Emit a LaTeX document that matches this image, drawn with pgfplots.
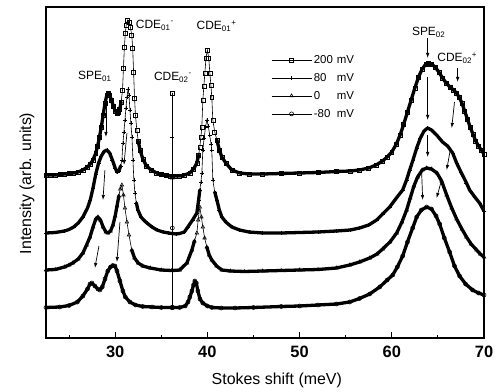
\documentclass[border=0pt]{standalone}
\usepackage{pgfplots}
\usepackage{pgfplotstable}
\pgfplotsset{compat=1.18}
\usepackage{fontspec}
\setmainfont{Liberation Sans}
\usetikzlibrary{arrows.meta,calc}
\newcommand{\lbl}{\fontsize{12}{12}\selectfont}

\pgfplotstableread[row sep=\\]{x y\\
22.5 -175\\ 23.0 -175\\ 23.5 -175\\ 24.0 -174.5\\ 24.5 -174\\ 25.0 -173.5\\ 25.5 -173\\ 26.0 -172\\ 26.5 -170\\ 27.0 -167\\
27.3 -164\\ 27.6 -160\\ 27.9 -153\\ 28.1 -146\\ 28.3 -137\\ 28.5 -127\\ 28.7 -115\\ 28.9 -103\\ 29.1 -95\\ 29.25 -93\\
29.4 -95\\ 29.6 -100\\ 29.8 -106\\ 30.0 -111\\ 30.2 -113\\ 30.35 -112\\ 30.5 -109\\ 30.65 -102\\ 30.8 -90\\ 30.9 -68\\
31.0 -47\\ 31.1 -33\\ 31.2 -25\\ 31.35 -20\\ 31.5 -22\\ 31.65 -27\\ 31.8 -35\\ 31.9 -48\\ 32.0 -72\\ 32.1 -98\\
32.2 -115\\ 32.35 -130\\ 32.5 -141\\ 32.7 -150\\ 33.0 -159\\ 33.4 -166\\ 33.9 -170\\ 34.5 -173\\ 35.0 -174.5\\ 35.5 -175.5\\
36.0 -176\\ 36.15 -176\\ 36.2 -176\\ 36.2 -93\\ 36.2 -176\\ 36.25 -176\\ 36.5 -176\\ 37.0 -176\\ 37.5 -175\\ 38.1 -173\\ 38.5 -169\\ 38.86 -163\\
39.05 -155\\ 39.18 -147\\ 39.3 -137\\ 39.4 -127\\ 39.51 -100\\ 39.62 -86\\ 39.73 -73\\ 39.85 -58\\ 40.0 -50\\ 40.15 -58\\
40.27 -73\\ 40.38 -85\\ 40.48 -97\\ 40.59 -120\\ 40.8 -132\\ 41.03 -140\\ 41.3 -150\\ 41.57 -157\\ 42.0 -163\\ 42.65 -170\\
43.5 -173\\ 44.5 -174\\ 46 -174\\ 48 -173.5\\ 50 -173\\ 52 -172.5\\ 54 -171.5\\ 55.5 -171\\ 56.5 -170\\ 57.5 -168\\
58.3 -165\\ 59.0 -161\\ 59.5 -157\\ 60.0 -152\\ 60.5 -144\\ 60.9 -135\\ 61.3 -124\\ 61.7 -112\\ 62.1 -100\\ 62.5 -88\\
62.9 -77\\ 63.3 -69\\ 63.7 -64\\ 64.0 -63\\ 64.3 -64\\ 64.7 -67\\ 65.1 -72\\ 65.5 -78\\ 65.9 -83\\ 66.3 -87\\
66.7 -90\\ 67.0 -93\\ 67.3 -97\\ 67.6 -103\\ 67.9 -111\\ 68.2 -119\\ 68.5 -127\\ 68.8 -134\\ 69.1 -141\\ 69.4 -146\\
69.7 -150\\ 70.0 -154\\
}\curveA

\pgfplotstableread[row sep=\\]{x y\\
22.5 -233\\ 23.5 -232.5\\ 24.5 -231\\ 25.0 -229.5\\ 25.5 -227\\ 26.0 -223\\ 26.5 -217\\ 27.0 -208\\ 27.3 -200\\ 27.6 -188\\
27.9 -174\\ 28.2 -163\\ 28.5 -156\\ 28.8 -151.5\\ 29.1 -150\\ 29.4 -153\\ 29.7 -160\\ 30.0 -168\\ 30.2 -172\\ 30.4 -171\\
30.6 -166\\ 30.73 -160\\ 30.84 -143\\ 30.95 -132\\ 31.06 -120\\ 31.17 -108\\ 31.28 -97\\ 31.4 -89\\ 31.5 -95\\ 31.6 -110\\
31.7 -123\\ 31.82 -137\\ 31.93 -160\\ 32.03 -180\\ 32.14 -193\\ 32.3 -203\\ 32.47 -210\\ 32.8 -217\\ 33.1 -220\\ 33.44 -223\\
34.0 -227\\ 34.53 -230\\ 35.2 -232\\ 35.8 -233\\ 36.15 -233.5\\ 36.2 -233.5\\ 36.2 -137\\ 36.2 -233.5\\ 36.25 -233.5\\ 36.6 -234\\ 37.0 -233.5\\ 37.5 -232\\
37.88 -227\\ 38.4 -220\\ 38.86 -213\\ 39.05 -200\\ 39.18 -190\\ 39.3 -182\\ 39.4 -173\\ 39.51 -150\\ 39.65 -138\\ 39.8 -127\\
39.94 -120\\ 40.1 -126\\ 40.25 -135\\ 40.4 -144\\ 40.48 -150\\ 40.59 -180\\ 40.8 -192\\ 41.03 -200\\ 41.3 -210\\ 41.57 -217\\
42.0 -222\\ 42.65 -227\\ 43.5 -230\\ 44.5 -232\\ 46 -233\\ 48 -233\\ 50 -232.5\\ 52 -232\\ 54 -231\\ 55.5 -230\\
56.5 -228\\ 57.5 -225\\ 58.36 -220\\ 59.0 -214\\ 59.77 -207\\ 60.5 -198\\ 61.18 -190\\ 61.6 -180\\ 61.94 -170\\ 62.3 -160\\
62.7 -148\\ 63.1 -138\\ 63.5 -131\\ 63.89 -128\\ 64.3 -130\\ 64.86 -135\\ 65.5 -142\\ 66.05 -146\\ 66.6 -153\\ 67.03 -163\\
67.5 -172\\ 68.1 -183\\ 68.44 -190\\ 69.0 -197\\ 69.52 -203\\ 70.0 -211\\
}\curveB

\pgfplotstableread[row sep=\\]{x y\\
22.5 -270\\ 23.5 -269.5\\ 24.5 -267\\ 25.0 -265\\ 25.4 -263\\ 26.0 -259\\ 26.5 -253\\ 26.9 -245\\ 27.27 -237\\ 27.6 -227\\
27.9 -219\\ 28.13 -217\\ 28.4 -220\\ 28.7 -227\\ 29.0 -232\\ 29.22 -233\\ 29.5 -231\\ 29.76 -225\\ 30.0 -216\\ 30.2 -206\\
30.4 -196\\ 30.55 -189\\ 30.73 -185\\ 30.9 -195\\ 31.06 -208\\ 31.28 -222\\ 31.5 -235\\ 31.8 -250\\ 32.1 -258\\ 32.5 -263\\
33.0 -266\\ 33.8 -268\\ 35.0 -270\\ 36.15 -270.5\\ 36.2 -270.5\\ 36.2 -178\\ 36.2 -270.5\\ 36.25 -270.5\\ 37.0 -270\\ 37.78 -263\\ 38.32 -250\\ 38.6 -241\\
38.86 -233\\ 39.0 -220\\ 39.18 -207\\ 39.35 -217\\ 39.51 -227\\ 39.7 -238\\ 39.94 -247\\ 40.2 -255\\ 40.48 -260\\ 41.0 -266\\
41.57 -270\\ 42.5 -271\\ 44 -271.5\\ 46 -271\\ 48 -270.5\\ 50 -270\\ 52 -269.5\\ 54 -268\\ 55.44 -265\\ 56.5 -262\\
57.6 -258\\ 58.4 -254\\ 59.01 -249\\ 59.8 -242\\ 60.53 -233\\ 61.1 -222\\ 61.61 -210\\ 62.0 -198\\ 62.4 -186\\ 62.8 -177\\
63.3 -170\\ 63.78 -168\\ 64.3 -169\\ 64.9 -173\\ 65.4 -181\\ 65.95 -195\\ 66.5 -208\\ 67.03 -219\\ 67.6 -229\\ 68.1 -237\\
68.6 -244\\ 69.2 -250\\ 69.6 -254\\ 70.0 -257\\
}\curveC

\pgfplotstableread[row sep=\\]{x y\\
22.5 -307.5\\ 24.0 -307\\ 25.0 -305.5\\ 25.9 -302\\ 26.5 -296\\ 27.0 -289\\ 27.27 -284\\ 27.48 -283\\ 27.8 -286\\ 28.13 -289\\
28.35 -290\\ 28.6 -287\\ 28.9 -279\\ 29.2 -271\\ 29.5 -267\\ 29.75 -265.5\\ 29.98 -266\\ 30.2 -271\\ 30.52 -281\\ 30.84 -291\\
31.1 -297\\ 31.6 -302\\ 32.2 -305\\ 33.0 -306.5\\ 34.0 -307\\ 35.0 -307.5\\ 36.15 -307.5\\ 36.2 -307.5\\ 36.2 -228\\ 36.2 -307.5\\ 36.25 -307.5\\ 37.0 -307.5\\
37.6 -306\\ 37.9 -302\\ 38.1 -297\\ 38.32 -291\\ 38.5 -285\\ 38.64 -281\\ 38.8 -283\\ 38.97 -291\\ 39.2 -299\\ 39.5 -303\\
40.0 -306\\ 40.5 -307.5\\ 41.5 -308\\ 43 -308\\ 45 -307.5\\ 48 -306.5\\ 50 -306\\ 52 -305\\ 54 -304\\ 55.44 -302\\
56.5 -298.5\\ 57.6 -294\\ 58.69 -287\\ 59.5 -280\\ 60.1 -275\\ 60.6 -267\\ 61.18 -256\\ 61.7 -242\\ 62.26 -228\\ 62.7 -217\\
63.2 -210\\ 63.78 -207\\ 64.3 -209\\ 64.8 -216\\ 65.19 -224\\ 65.7 -238\\ 66.27 -252\\ 66.8 -266\\ 67.35 -276\\ 68.0 -284\\
68.76 -290\\ 69.4 -293\\ 70.0 -295\\
}\curveD

\begin{document}
\begin{tikzpicture}
\begin{axis}[
  scale only axis, width=438bp, height=331bp,
  xmin=22.5, xmax=70, ymin=-338, ymax=-7,
  axis line style={line width=1.1pt},
  xtick={30,40,50,60,70}, minor xtick={25,35,45,55,65},
  ytick=\empty,
  xtick pos=left, tick align=inside,
  major tick length=6bp, minor tick length=3bp,
  every tick/.style={line width=1pt,black},
  /pgf/number format/assume math mode=true,
  xticklabel style={font=\fontsize{16.5}{16.5}\selectfont\bfseries},
  xticklabel shift=5bp,
  xlabel={Stokes shift (meV)},
  xlabel style={font=\fontsize{16}{18}\selectfont, at={(axis description cs:0.527,0)}, anchor=base, yshift=-46bp},
  ylabel={Intensity (arb. units)},
  ylabel style={font=\fontsize{16}{18}\selectfont, at={(axis description cs:-0.034,0.467)}, anchor=base},
  legend style={at={(0.507,0.867)}, anchor=north west, draw=none, fill=none,
    font=\fontsize{11.5}{13}\selectfont, row sep=4.5bp},
  legend cell align=left,
  legend image code/.code={\draw[mark repeat=2,mark phase=2,#1,line width=0.6pt] plot coordinates {(0bp,0bp) (20bp,0bp) (40bp,0bp)};},
  band/.style={black, line width=3.3bp, no marks, forget plot, line join=round, line cap=round},
  spike/.style={black, line width=1.4pt, no marks, forget plot, restrict x to domain=36.19:36.21},
  curve/.style={black, line width=0.6pt, mark size=2pt, mark options={solid, line width=0.6pt}},
]
\coordinate (SW) at (rel axis cs:0,0);
\coordinate (NE) at (rel axis cs:1,1);

% thick bands (flat parts)
\addplot[band, restrict x to domain=22.4:30.7] table {\curveA};
\addplot[band, restrict x to domain=32.4:36.16] table {\curveA};
\addplot[band, restrict x to domain=36.24:39.1] table {\curveA};
\addplot[band, restrict x to domain=40.9:70.1] table {\curveA};
\addplot[band, restrict x to domain=22.4:30.65] table {\curveB};
\addplot[band, restrict x to domain=32.2:36.16] table {\curveB};
\addplot[band, restrict x to domain=36.24:39.2] table {\curveB};
\addplot[band, restrict x to domain=40.75:70.1] table {\curveB};
\addplot[band, restrict x to domain=22.4:30.45] table {\curveC};
\addplot[band, restrict x to domain=31.7:36.16] table {\curveC};
\addplot[band, restrict x to domain=36.24:38.7] table {\curveC};
\addplot[band, restrict x to domain=39.9:70.1] table {\curveC};
\addplot[band, restrict x to domain=22.4:36.16] table {\curveD};
\addplot[band, restrict x to domain=36.24:70.1] table {\curveD};
% CDE02- spikes
\addplot[spike] table {\curveA};
\addplot[spike] table {\curveB};
\addplot[spike] table {\curveC};
\addplot[spike] table {\curveD};

% curves with markers
\addplot[curve, mark=square] table {\curveA};
\addlegendentry{\makebox[23bp][l]{200}mV}
\addplot[curve, mark=+] table {\curveB};
\addlegendentry{\makebox[23bp][l]{80}mV}
\addplot[curve, mark=triangle] table {\curveC};
\addlegendentry{\makebox[23bp][l]{0}mV}
\addplot[curve, mark=o] table {\curveD};
\addlegendentry{\makebox[23bp][l]{-80}mV}

% labels
\node[font=\lbl] at (axis cs:27.8,-76) {SPE\textsubscript{01}};
\node[font=\lbl] at (axis cs:34.3,-25) {CDE\textsubscript{01}\textsuperscript{-}};
\node[font=\lbl] at (axis cs:41.0,-26) {CDE\textsubscript{01}\textsuperscript{+}};
\node[font=\lbl] at (axis cs:36.26,-77) {CDE\textsubscript{02}\textsuperscript{-}};
\node[font=\lbl] at (axis cs:64.0,-32) {SPE\textsubscript{02}};
\node[font=\lbl] at (axis cs:67.1,-58) {CDE\textsubscript{02}\textsuperscript{+}};

% arrows
\begin{scope}[-{Latex[length=5bp,width=3.5bp]}, line width=0.7pt]
\draw (axis cs:29.0,-102) -- (axis cs:29.0,-137);
\draw (axis cs:28.89,-170) -- (axis cs:28.68,-200);
\draw (axis cs:28.24,-246) -- (axis cs:27.8,-268);
\draw (axis cs:31.28,-133) -- (axis cs:30.95,-165);
\draw (axis cs:30.52,-222) -- (axis cs:30.19,-262);
\draw (axis cs:63.89,-38) -- (axis cs:63.89,-58);
\draw (axis cs:63.89,-77) -- (axis cs:63.89,-120);
\draw (axis cs:63.89,-135) -- (axis cs:63.89,-157);
\draw (axis cs:63.24,-173) -- (axis cs:63.35,-200);
\draw (axis cs:67.14,-68) -- (axis cs:67.14,-82);
\draw (axis cs:66.8,-102) -- (axis cs:66.5,-128);
\draw (axis cs:66.38,-148) -- (axis cs:65.95,-170);
\draw (axis cs:65.4,-180) -- (axis cs:64.86,-198);
\end{scope}
\end{axis}
\pgfresetboundingbox
\path ($(SW)+(-46bp,-54bp)$) rectangle ($(NE)+(18bp,7bp)$);
\end{tikzpicture}
\end{document}
